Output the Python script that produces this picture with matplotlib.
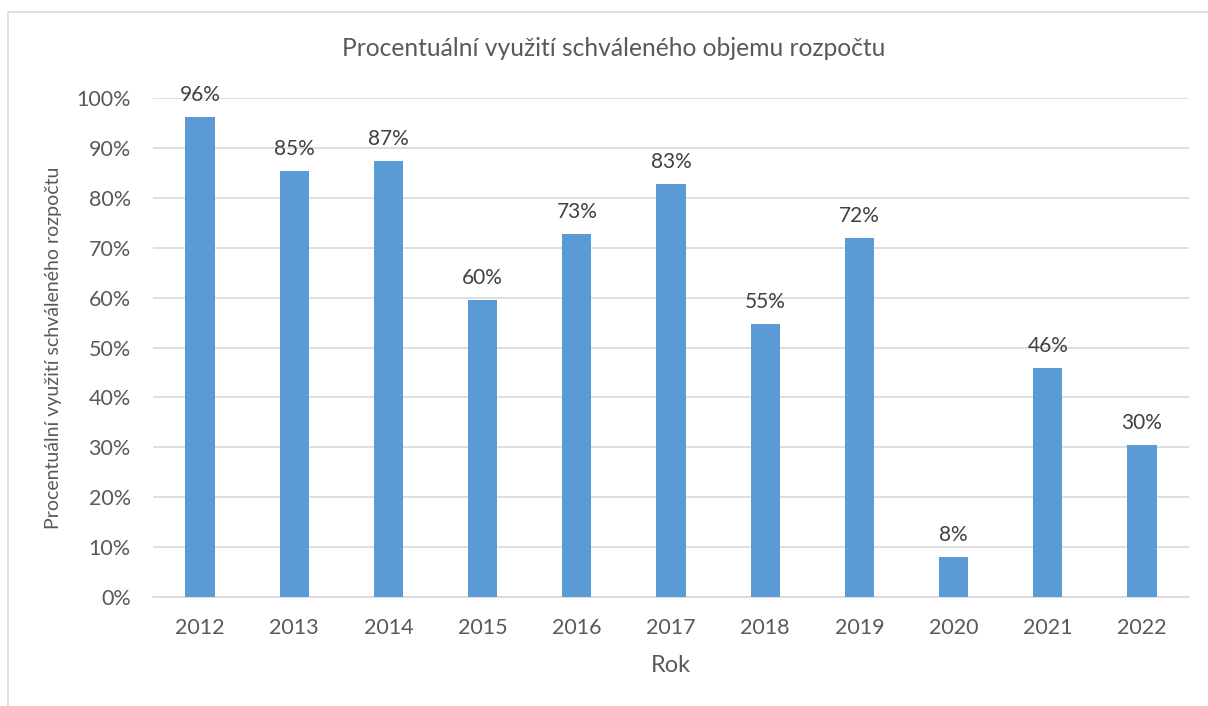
import matplotlib.pyplot as plt
from matplotlib.patches import Rectangle
from matplotlib.ticker import PercentFormatter

years = ['2012', '2013', '2014', '2015', '2016', '2017', '2018', '2019', '2020', '2021', '2022']
utilization = [96.2, 85.3, 87.4, 59.5, 72.7, 82.8, 54.8, 72.0, 8.0, 45.9, 30.5]
labels = ['96%', '85%', '87%', '60%', '73%', '83%', '55%', '72%', '8%', '46%', '30%']

bar_color = '#5B9BD5'
text_color = '#595959'
grid_color = '#D9D9D9'

plt.rcParams['font.family'] = ['Lato', 'DejaVu Sans']

fig = plt.figure(figsize=(12.08, 7.06), dpi=100)
# chart area frame (left/top edges visible)
fig.patches.append(Rectangle((8 / 1208, -0.05), 1.2, (706 - 12) / 706 + 0.05,
                             transform=fig.transFigure, fill=False,
                             edgecolor='#D9D9D9', linewidth=1.2))

ax = fig.add_axes([153 / 1208, (706 - 597) / 706, (1189 - 153) / 1208, (597 - 98) / 706])
x = range(len(years))
bars = ax.bar(x, utilization, width=0.31, color=bar_color, zorder=3)

for xi, v, lab in zip(x, utilization, labels):
    ax.text(xi, v + 2.4, lab, ha='center', va='bottom', fontsize=15, color='#404040')

ax.set_ylim(0, 100)
ax.set_xlim(-0.5, len(years) - 0.5)
ax.set_yticks(range(0, 101, 10))
ax.yaxis.set_major_formatter(PercentFormatter(decimals=0))
ax.set_xticks(list(x))
ax.set_xticklabels(years)
ax.tick_params(axis='both', length=0, labelsize=15.5, colors=text_color)
ax.tick_params(axis='x', pad=15)
ax.tick_params(axis='y', pad=16)
ax.grid(axis='y', color=grid_color, linewidth=1.2, zorder=0)
for s in ['top', 'right', 'left']:
    ax.spines[s].set_visible(False)
ax.spines['bottom'].set_color(grid_color)
ax.spines['bottom'].set_linewidth(1.2)

ax.set_xlabel('Rok', fontsize=17, color=text_color, labelpad=12)
ax.set_ylabel('Procentuální využití schváleného rozpočtu', fontsize=14, color=text_color, labelpad=10)
fig.text(614 / 1208, 1 - 48 / 706, 'Procentuální využití schváleného objemu rozpočtu',
         ha='center', va='center', fontsize=17.7, color=text_color)

fig.savefig('out.png', dpi=100, facecolor='white')
